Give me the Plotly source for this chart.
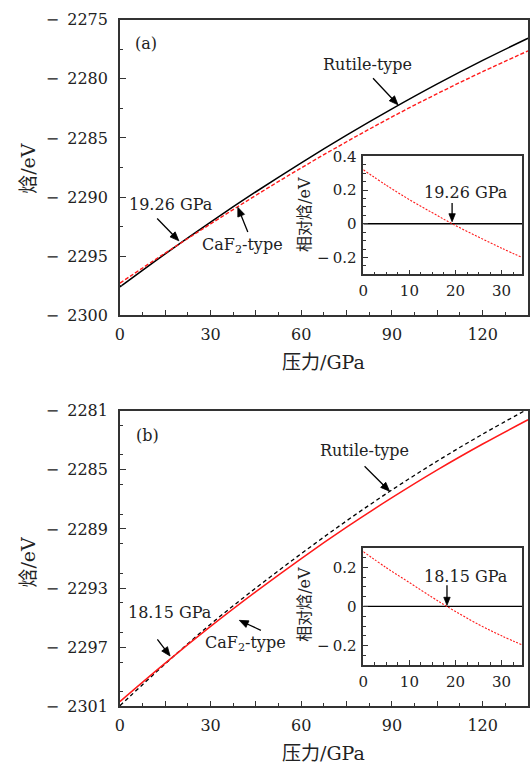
import math
import plotly.graph_objects as go

# ---------------- data ----------------
# pressure grid (GPa) for the main enthalpy curves
pressure = [0, 15, 30, 45, 60, 75, 90, 105, 120, 135]

# (a) enthalpy (eV)
rutile_a = [-2297.60, -2294.80, -2292.12, -2289.55, -2287.10, -2284.76,
            -2282.54, -2280.43, -2278.44, -2276.57]
caf2_a = [-2297.28, -2294.735, -2292.27, -2289.85, -2287.53, -2285.32,
          -2283.22, -2281.25, -2279.39, -2277.64]

# (b) enthalpy (eV)
rutile_b = [-2300.95, -2298.12, -2295.44, -2292.99, -2290.67, -2288.45,
            -2286.36, -2284.41, -2282.59, -2280.89]
caf2_b = [-2300.67, -2298.07, -2295.59, -2293.24, -2291.00, -2288.88,
          -2286.89, -2285.01, -2283.26, -2281.62]

# insets: CaF2-type enthalpy relative to rutile-type (eV)
inset_p_a = [0, 5, 10, 15, 19.26, 25, 30, 35]
inset_h_a = [0.320, 0.228, 0.143, 0.065, 0.0, -0.079, -0.145, -0.207]
inset_p_b = [0, 5, 10, 15, 18.15, 25, 30, 35]
inset_h_b = [0.280, 0.198, 0.122, 0.046, 0.0, -0.092, -0.150, -0.202]
ref_p = [0, 35]
ref_h = [0, 0]

# tick positions and labels
x_ticks = [0, 15, 30, 45, 60, 75, 90, 105, 120, 135]
x_labels = ["0", "", "30", "", "60", "", "90", "", "120", ""]
y_ticks_a = [-2300, -2295, -2290, -2285, -2280, -2275]
y_ticks_b = [-2301, -2297, -2293, -2289, -2285, -2281]
inset_x_ticks = [0, 10, 20, 30]
inset_y_ticks_a = [-0.2, 0, 0.2, 0.4]
inset_y_ticks_b = [-0.2, 0, 0.2]


def num_label(v, gap="\u2009"):
    s = "{:g}".format(abs(v))
    return ("\u2212" + gap + s) if v < 0 else s


# ---------------- layout helpers ----------------
W, H = 530, 774
FONT = "DejaVu Serif, Noto Sans CJK SC, serif"
AX = "#333333"


def px_x(a, b):
    return [a / W, b / W]


def px_y(top, bottom):
    return [1 - bottom / H, 1 - top / H]


def axis_style(rng, tickvals, ticktext, minor_dtick, domain, anchor,
               size=16, ticklen=6, minorlen=3.5, standoff=4):
    return dict(
        range=rng, domain=domain, anchor=anchor,
        tickmode="array", tickvals=tickvals, ticktext=ticktext,
        ticks="inside", ticklen=ticklen, tickwidth=1.2, tickcolor=AX,
        minor=dict(dtick=minor_dtick, tick0=0, ticks="inside",
                   ticklen=minorlen, tickwidth=1, tickcolor=AX),
        showline=True, linecolor=AX, linewidth=1.5, mirror=True,
        showgrid=False, zeroline=False, ticklabelstandoff=standoff,
        tickfont=dict(family=FONT, size=size, color="#222222"),
    )


fig = go.Figure()

RED = "#ff1a1a"
# main curves (a)
fig.add_trace(go.Scatter(x=pressure, y=rutile_a, mode="lines",
                         line=dict(color="black", width=1.5, shape="spline"),
                         xaxis="x", yaxis="y"))
fig.add_trace(go.Scatter(x=pressure, y=caf2_a, mode="lines",
                         line=dict(color=RED, width=1.4, dash="4px,2px",
                                   shape="spline"),
                         xaxis="x", yaxis="y"))
# inset (a)
fig.add_trace(go.Scatter(x=ref_p, y=ref_h, mode="lines",
                         line=dict(color="black", width=1.3),
                         xaxis="x2", yaxis="y2"))
fig.add_trace(go.Scatter(x=inset_p_a, y=inset_h_a, mode="lines",
                         line=dict(color=RED, width=1.1, dash="2px,1.5px",
                                   shape="spline"),
                         xaxis="x2", yaxis="y2"))
# main curves (b)
fig.add_trace(go.Scatter(x=pressure, y=rutile_b, mode="lines",
                         line=dict(color="black", width=1.3, dash="4px,3px",
                                   shape="spline"),
                         xaxis="x3", yaxis="y3"))
fig.add_trace(go.Scatter(x=pressure, y=caf2_b, mode="lines",
                         line=dict(color=RED, width=1.5, shape="spline"),
                         xaxis="x3", yaxis="y3"))
# inset (b)
fig.add_trace(go.Scatter(x=ref_p, y=ref_h, mode="lines",
                         line=dict(color="black", width=1.3),
                         xaxis="x4", yaxis="y4"))
fig.add_trace(go.Scatter(x=inset_p_b, y=inset_h_b, mode="lines",
                         line=dict(color=RED, width=1.1, dash="2px,1.5px",
                                   shape="spline"),
                         xaxis="x4", yaxis="y4"))

main_xd = px_x(116, 528)
inset_xd = px_x(361.7, 522.3)
EN = "\u2002"

fig.update_layout(
    width=W, height=H, margin=dict(l=0, r=0, t=0, b=0),
    paper_bgcolor="white", plot_bgcolor="white", showlegend=False,
    xaxis=axis_style([0, 135], x_ticks, x_labels, 7.5, main_xd, "y"),
    yaxis=axis_style([-2300, -2275], y_ticks_a,
                     [num_label(v, EN) for v in y_ticks_a], 2.5,
                     px_y(11, 314), "x", standoff=7),
    xaxis2=axis_style([0, 34.5], inset_x_ticks, [str(v) for v in inset_x_ticks],
                      2.5, inset_xd, "y2", size=15, ticklen=5, minorlen=3,
                      standoff=2),
    yaxis2=axis_style([-0.3, 0.4], inset_y_ticks_a,
                      [num_label(v) for v in inset_y_ticks_a], 0.05,
                      px_y(151, 272), "x2", size=15, ticklen=5, minorlen=3,
                      standoff=2),
    xaxis3=axis_style([0, 135], x_ticks, x_labels, 7.5, main_xd, "y3"),
    yaxis3=axis_style([-2301, -2281], y_ticks_b,
                      [num_label(v, EN) for v in y_ticks_b], 2,
                      px_y(411.7, 715), "x3", standoff=7),
    xaxis4=axis_style([0, 34.5], inset_x_ticks, [str(v) for v in inset_x_ticks],
                      2.5, inset_xd, "y4", size=15, ticklen=5, minorlen=3,
                      standoff=2),
    yaxis4=axis_style([-0.3, 0.3], inset_y_ticks_b,
                      [num_label(v) for v in inset_y_ticks_b], 0.05,
                      px_y(552.3, 672.7), "x4", size=15, ticklen=5, minorlen=3,
                      standoff=2),
)

ann = []
shapes = []


def label(text, x, y, xref, yref, size=16, angle=0):
    ann.append(dict(text=text, x=x, y=y, xref=xref, yref=yref, showarrow=False,
                    xanchor="center", yanchor="middle", textangle=angle,
                    font=dict(family=FONT, size=size, color="#222222")))


def arrow(x, y, ax, ay, xref, yref, head_len=9, head_half=3.6):
    """Arrow whose tip sits at data point (x, y); (ax, ay) is the tail offset
    in screen pixels (y pointing down)."""
    tx, ty = ax, -ay                      # tail in pixel coords, y up
    n = math.hypot(tx, ty)
    ux, uy = -tx / n, -ty / n             # unit vector tail -> tip
    bx, by = -head_len * ux, -head_len * uy
    px, py = -uy * head_half, ux * head_half
    common = dict(xref=xref, yref=yref, xsizemode="pixel", ysizemode="pixel",
                  xanchor=x, yanchor=y)
    shapes.append(dict(type="line", x0=tx, y0=ty, x1=bx * 0.9, y1=by * 0.9,
                       line=dict(color="black", width=1.3), **common))
    shapes.append(dict(type="path",
                       path=f"M 0,0 L {bx + px:.2f},{by + py:.2f} "
                            f"L {bx - px:.2f},{by - py:.2f} Z",
                       fillcolor="black", line=dict(color="black", width=0.8),
                       **common))


# panel (a)
label("(a)", 8.7, -2276.98, "x", "y")
label("19.26 GPa", 16.9, -2290.6, "x", "y")
arrow(19.5, -2293.7, -21.7, -22.3, "x", "y")
label("CaF<sub>2</sub>-type", 40.6, -2294.06, "x", "y")
arrow(39.0, -2290.87, 10, 24.7, "x", "y")
label("Rutile-type", 81.9, -2278.8, "x", "y")
arrow(92.0, -2282.2, -25, -26.6, "x", "y")
label("19.26 GPa", 22.2, 0.184, "x2", "y2")
arrow(19.26, 0.012, 0, -18.7, "x2", "y2", head_len=8, head_half=3.2)

# panel (b)
label("(b)", 9.0, -2282.67, "x3", "y3")
label("18.15 GPa", 16.7, -2294.67, "x3", "y3")
arrow(16.6, -2297.59, -12.7, -16.6, "x3", "y3")
label("CaF<sub>2</sub>-type", 41.6, -2296.76, "x3", "y3")
arrow(39.5, -2295.18, 21.6, 10, "x3", "y3")
label("Rutile-type", 80.8, -2283.72, "x3", "y3")
arrow(89.2, -2286.45, -25, -25, "x3", "y3")
label("18.15 GPa", 22.2, 0.155, "x4", "y4")
arrow(18.15, 0.006, 0, -20, "x4", "y4", head_len=8, head_half=3.2)

# axis titles
label("压力/GPa", 322 / W, 1 - 362 / H, "paper", "paper", size=19)
label("压力/GPa", 322 / W, 1 - 763 / H, "paper", "paper", size=19)
label("焓/eV", 23 / W, 1 - 163 / H, "paper", "paper", size=19, angle=-90)
label("焓/eV", 23 / W, 1 - 566.7 / H, "paper", "paper", size=19, angle=-90)
label("相对焓/eV", 303 / W, 1 - 211 / H, "paper", "paper", size=16, angle=-90)
label("相对焓/eV", 303 / W, 1 - 610.7 / H, "paper", "paper", size=16, angle=-90)

fig.update_layout(annotations=ann, shapes=shapes)
fig.write_html("out.html")
